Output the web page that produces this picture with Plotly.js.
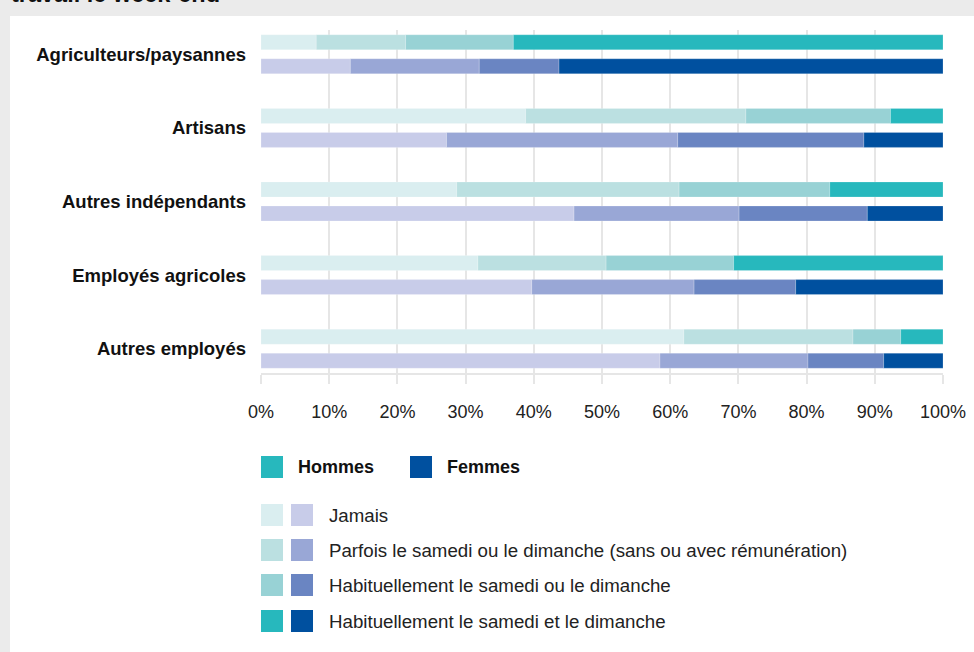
<!DOCTYPE html>
<html>
<head>
<meta charset="utf-8">
<script src="https://cdn.plot.ly/plotly-3.0.1.min.js"></script>
<style>
  html, body { margin: 0; padding: 0; background: #ebebeb; }
  #chart { width: 974px; height: 652px; }
</style>
</head>
<body>
<div id="chart"></div>
<script>
// ---- Data ----
const categories = ["Agriculteurs/paysannes", "Artisans", "Autres indépendants", "Employés agricoles", "Autres employés"];
const seriesNames = [
  "Jamais",
  "Parfois le samedi ou le dimanche (sans ou avec rémunération)",
  "Habituellement le samedi ou le dimanche",
  "Habituellement le samedi et le dimanche"
];
const groupNames = ["Hommes", "Femmes"];

// Hommes (%)
const hommesJamais  = [8.1, 38.8, 28.7, 31.8, 62.0];
const hommesParfois = [13.1, 32.3, 32.6, 18.8, 24.8];
const hommesHabOu   = [15.8, 21.2, 22.1, 18.7, 7.0];
const hommesHabEt   = [63.0, 7.7, 16.6, 30.7, 6.2];

// Femmes (%)
const femmesJamais  = [13.1, 27.2, 45.9, 39.7, 58.5];
const femmesParfois = [18.9, 33.9, 24.2, 23.8, 21.7];
const femmesHabOu   = [11.7, 27.3, 18.8, 14.9, 11.1];
const femmesHabEt   = [56.3, 11.6, 11.1, 21.6, 8.7];

const tickVals = [0, 10, 20, 30, 40, 50, 60, 70, 80, 90, 100];
const tickText = ["0%", "10%", "20%", "30%", "40%", "50%", "60%", "70%", "80%", "90%", "100%"];

// ---- Styles ----
const hommesColors = ["#daeef0", "#bbe0e1", "#98d2d5", "#27b8bd"];
const femmesColors = ["#c8cce9", "#99a7d6", "#6a85c2", "#00509f"];
const FONT = "Liberation Sans, Arial, sans-serif";

const W = 974, H = 652;
const M = { l: 261, r: 31, t: 30, b: 279 };
const PW = W - M.l - M.r, PH = H - M.t - M.b;
const px = x => (x - M.l) / PW;
const py = y => (H - M.b - y) / PH;

const barW = 0.204;
const offH = -0.265, offF = 0.061;

function stackTraces(seriesList, colors, offset, group) {
  const traces = [];
  const base = categories.map(() => 0);
  seriesList.forEach((vals, i) => {
    traces.push({
      type: "bar",
      orientation: "h",
      y: categories,
      x: vals,
      base: base.slice(),
      width: categories.map(() => barW),
      offset: categories.map(() => offset),
      name: group + " – " + seriesNames[i],
      marker: { color: colors[i], line: { width: 0.6, color: "rgba(255,255,255,0.35)" } },
      hoverinfo: "skip",
      showlegend: false
    });
    vals.forEach((v, k) => { base[k] += v; });
  });
  return traces;
}

const traces = [
  ...stackTraces([hommesJamais, hommesParfois, hommesHabOu, hommesHabEt], hommesColors, offH, groupNames[0]),
  ...stackTraces([femmesJamais, femmesParfois, femmesHabOu, femmesHabEt], femmesColors, offF, groupNames[1])
];

// ---- Background panel + custom legend ----
const shapes = [{
  type: "rect", xref: "paper", yref: "paper", layer: "below",
  x0: px(10), x1: px(990), y0: py(16), y1: py(700),
  fillcolor: "#ffffff", line: { width: 0 }
}];
const annotations = [{
  xref: "paper", yref: "paper", x: px(9), y: py(9),
  xanchor: "left", yanchor: "bottom", showarrow: false,
  text: "<b>travail le week-end</b>",
  font: { family: FONT, size: 23.5, color: "#111" }
}];

function sq(x, y, color) {
  shapes.push({
    type: "rect", xref: "paper", yref: "paper",
    x0: px(x), x1: px(x + 22), y0: py(y + 22), y1: py(y),
    fillcolor: color, line: { width: 0 }
  });
}
// Group legend
sq(261, 456, hommesColors[3]);
sq(410, 456, femmesColors[3]);
annotations.push({ xref: "paper", yref: "paper", x: px(296), y: py(467), xanchor: "left", yanchor: "middle",
  showarrow: false, text: "<b>" + groupNames[0] + "</b>", font: { family: FONT, size: 18, color: "#111" } });
annotations.push({ xref: "paper", yref: "paper", x: px(445), y: py(467), xanchor: "left", yanchor: "middle",
  showarrow: false, text: "<b>" + groupNames[1] + "</b>", font: { family: FONT, size: 18, color: "#111" } });
// Series legend
const rowTops = [504, 539, 574, 610];
seriesNames.forEach((name, i) => {
  sq(261, rowTops[i], hommesColors[i]);
  sq(291, rowTops[i], femmesColors[i]);
  annotations.push({ xref: "paper", yref: "paper", x: px(327), y: py(rowTops[i] + 11), xanchor: "left", yanchor: "middle",
    showarrow: false, text: name, font: { family: FONT, size: 18.7, color: "#222" } });
});

const layout = {
  width: W, height: H,
  margin: M,
  paper_bgcolor: "#ebebeb",
  plot_bgcolor: "rgba(0,0,0,0)",
  barmode: "overlay",
  showlegend: false,
  xaxis: {
    range: [0, 100],
    tickvals: tickVals, ticktext: tickText,
    showgrid: true, gridcolor: "#e6e6e6", gridwidth: 2,
    zeroline: false,
    showline: true, linecolor: "#e6e6e6", linewidth: 2,
    ticks: "outside", ticklen: 9, tickwidth: 2, tickcolor: "#e6e6e6",
    ticklabelstandoff: 12,
    tickfont: { family: FONT, size: 18, color: "#222" },
    fixedrange: true
  },
  yaxis: {
    type: "category",
    categoryorder: "array", categoryarray: categories,
    range: [4.33, -0.33],
    showgrid: false, zeroline: false, showline: false,
    ticks: "", ticklabelstandoff: 14,
    tickfont: { family: FONT, size: 18.5, color: "#111", weight: "bold" },
    fixedrange: true
  },
  shapes: shapes,
  annotations: annotations
};

Plotly.newPlot("chart", traces, layout, { displayModeBar: false, staticPlot: true });
</script>
</body>
</html>
